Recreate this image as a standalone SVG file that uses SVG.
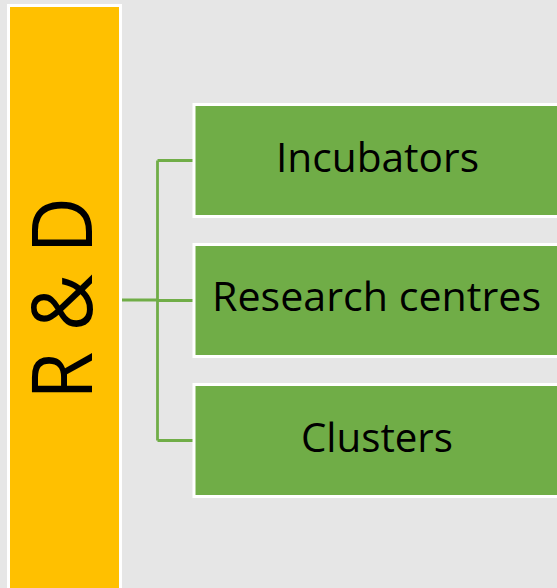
<svg xmlns="http://www.w3.org/2000/svg" width="557" height="588" viewBox="0 0 557 588">
  <style>
    .bar { fill: #FFC000; stroke: #FFFFFF; stroke-width: 3; }
    .box { fill: #70AD47; stroke: #FFFFFF; stroke-width: 3; }
    .lbl { font-family: "Open Sans", "Liberation Sans", sans-serif; font-size: 40px; fill: #000000; text-anchor: middle; }
    .big { font-family: "Open Sans", "Liberation Sans", sans-serif; font-size: 84px; fill: #000000; text-anchor: middle; }
    .conn { fill: none; stroke: #70AD47; stroke-width: 2.8; }
  </style>
  <rect x="0" y="0" width="557" height="588" fill="#E6E6E6"/>
  <g id="connectors">
    <path class="conn" d="M122,300 H157.5 M157.5,160.5 V440.5 M157.5,160.5 H193 M157.5,300.5 H193 M157.5,440.5 H193"/>
  </g>
  <g id="rd">
    <rect class="bar" x="8.5" y="5.5" width="112" height="600"/>
    <text class="big" transform="translate(92,298.5) rotate(-90)" x="0" y="0" textLength="203" lengthAdjust="spacingAndGlyphs">R &amp; D</text>
  </g>
  <g id="incubators">
    <rect class="box" x="194" y="104.5" width="400" height="112"/>
    <text class="lbl" x="377.5" y="171.5" textLength="203" lengthAdjust="spacingAndGlyphs">Incubators</text>
  </g>
  <g id="research">
    <rect class="box" x="194" y="244.5" width="400" height="112"/>
    <text class="lbl" x="376.5" y="311" textLength="329" lengthAdjust="spacingAndGlyphs">Research centres</text>
  </g>
  <g id="clusters">
    <rect class="box" x="194" y="384.5" width="400" height="112"/>
    <text class="lbl" x="377" y="451.5" textLength="152" lengthAdjust="spacingAndGlyphs">Clusters</text>
  </g>
</svg>
